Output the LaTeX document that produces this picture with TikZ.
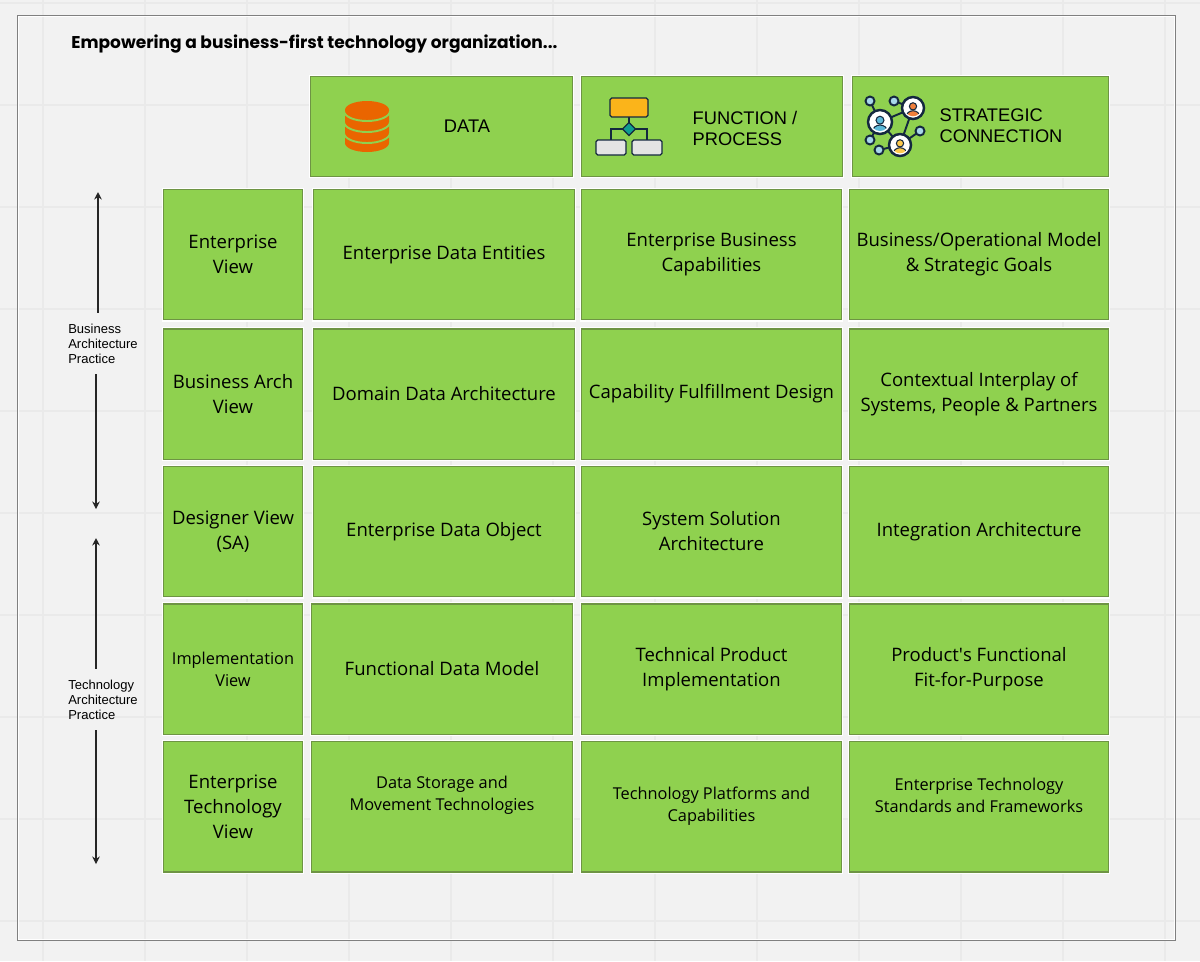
\documentclass[tikz,border=0pt]{standalone}
\usepackage{fontspec}
\setmainfont{Open Sans}
\newfontfamily\headfont{Liberation Sans}
\newfontfamily\titlefont{Poppins}
\usepackage{tikz}
\usetikzlibrary{arrows.meta}
\definecolor{pagebg}{HTML}{F2F2F2}
\definecolor{gridline}{HTML}{EAEAEA}
\definecolor{frameline}{HTML}{808080}
\definecolor{cellgreen}{HTML}{8FD14F}
\definecolor{cellline}{HTML}{6E9444}
\definecolor{inkblue}{HTML}{14283F}
\definecolor{dborange}{HTML}{EA6500}
\definecolor{flowyellow}{HTML}{FBB41A}
\definecolor{flowteal}{HTML}{0F9D8F}
\definecolor{flowgrey}{HTML}{E4E4E4}
\definecolor{dotblue}{HTML}{A8D8EA}
\definecolor{personblue}{HTML}{5CB8D8}
\definecolor{personorange}{HTML}{F0803C}
\definecolor{personyellow}{HTML}{FDC94E}
\tikzset{
  cell/.style={draw=cellline,fill=cellgreen,line width=0.85pt,preaction={draw=white,line width=2pt},inner sep=0pt,align=center,text=black,font=\fontsize{10.55}{14.2}\selectfont},
  smallcell/.style={cell,font=\fontsize{9.3}{12.5}\selectfont},
  smalltext/.style={inner sep=0pt,align=center,text=black,font=\fontsize{9.3}{12.5}\selectfont},
  viewcol/.style={minimum width=2.78cm,minimum height=2.61cm},
  datacol/.style={minimum width=5.22cm,minimum height=2.61cm},
  funccol/.style={minimum width=5.2cm,minimum height=2.61cm},
  conncol/.style={minimum width=5.18cm,minimum height=2.61cm},
  headcell/.style={cell,minimum height=2cm},
  headtext/.style={inner sep=0pt,align=left,text=black,font=\headfont\fontsize{10.4}{12}\selectfont},
  sidetext/.style={inner xsep=0pt,inner ysep=6pt,align=left,text=black,font=\headfont\fontsize{7.4}{8.5}\selectfont},
  sidearrow/.style={-{Stealth[length=1.5mm,width=1.5mm]},line width=0.65pt,draw=black!85},
  iconline/.style={draw=inkblue,line width=0.75pt}
}
\newcommand{\personicon}[4]{
  \draw[iconline,fill=white,line width=1.4pt] (#1,#2) circle (#3);
  \begin{scope}
    \clip (#1,#2) circle (#3*0.75);
    \fill[#4,draw=inkblue,line width=0.6pt] (#1,#2+#3*0.8) ellipse [x radius=#3*0.62,y radius=#3*0.55];
  \end{scope}
  \fill[#4,draw=inkblue,line width=0.6pt] (#1,#2-#3*0.15) circle (#3*0.33);
}
\begin{document}
\begin{tikzpicture}[x=0.02cm,y=-0.02cm]
        \fill[pagebg] (0,0) rectangle (1200,961);
        \useasboundingbox (0,0) rectangle (1200,961);
        \foreach \gx in {43,145,...,1165} \draw[gridline,line width=0.8pt] (\gx,0) -- (\gx,961);
        \foreach \gy in {3,105,...,921} \draw[gridline,line width=0.8pt] (0,\gy) -- (1200,\gy);
        \draw[white,line width=0.5pt] (18.5,16.5) rectangle (1174,939);
        \draw[frameline,line width=0.55pt] (17.5,15.5) rectangle (1175,940);
        \node [anchor=west,inner sep=0pt,font=\titlefont\bfseries\fontsize{9.7}{12}\selectfont] (title) at (71,44.5) {Empowering a business-first technology organization...};
        % top row
        \node [headcell,minimum width=5.24cm] (headdata) at (441.5,126.5) {};
        \node [headcell,minimum width=5.22cm] (headfunc) at (712,126.5) {};
        \node [headcell,minimum width=5.12cm] (headconn) at (980.5,126.5) {};
        \node [headtext] (datatext) at (467,126) {DATA};
        \node [headtext] (functext) at (745,128.5) {FUNCTION /\\PROCESS};
        \node [headtext] (conntext) at (1001,126) {STRATEGIC\\CONNECTION};
        % database icon
        \fill[dborange] (345,110) -- (345,143) arc[start angle=180,end angle=0,x radius=22,y radius=9] -- (389,110) arc[start angle=0,end angle=-180,x radius=22,y radius=9] -- cycle;
        \foreach \dby in {111,122,133} \draw[cellgreen,line width=1.1pt] (344,\dby) arc[start angle=180,end angle=0,x radius=23,y radius=10];
        % flow icon
        \draw[iconline] (629,117) -- (629,123) (611,140) -- (611,129) -- (647,129) -- (647,140);
        \draw[iconline,fill=flowyellow,rounded corners=1pt] (610,98) rectangle (648,117);
        \draw[iconline,fill=flowteal] (629,122.5) -- (635.5,129) -- (629,135.5) -- (622.5,129) -- cycle;
        \draw[iconline,fill=flowgrey,rounded corners=1pt] (596,140) rectangle (626,155);
        \draw[iconline,fill=flowgrey,rounded corners=1pt] (632,140) rectangle (662,155);
        % network icon
        \draw[iconline,line width=1.1pt] (870,101) -- (880,122) -- (913,108) -- (894,101) (880,122) -- (900,145) -- (913,108) (870,140) -- (880,122) (879,150) -- (900,145) -- (920,131);
        \foreach \sx/\sy in {870/101,894/101,870/140,879/150,920/131} \draw[iconline,fill=dotblue,line width=1.1pt] (\sx,\sy) circle (4.5);
        \personicon{880}{122}{12}{personblue}
        \personicon{913}{108}{11}{personorange}
        \personicon{900}{145}{11}{personyellow}
        % first column
        \node [cell,viewcol] (view1) at (233,254.5) {Enterprise\\View};
        \node [cell,viewcol] (view2) at (233,394) {Business Arch\\View};
        \node [cell,viewcol] (view3) at (233,531.5) {Designer View\\(SA)};
        \node [smallcell,viewcol] (view4) at (233,669) {Implementation\\View};
        \node [cell,viewcol] (view5) at (233,806.5) {Enterprise\\Technology\\View};
        % data column
        \node [cell,datacol] (data1) at (444,254.5) {Enterprise Data Entities};
        \node [cell,datacol] (data2) at (444,394) {Domain Data Architecture};
        \node [cell,datacol] (data3) at (444,531.5) {Enterprise Data Object};
        \node [cell,datacol] (data4) at (442,669) {Functional Data Model};
        \node [cell,datacol] (data5) at (442,806.5) {};
        \node [smalltext] (data5text) at (442,795.5) {Data Storage and\\Movement Technologies};
        % function column
        \node [cell,funccol] (func1) at (711.5,254.5) {Enterprise Business\\Capabilities};
        \node [cell,funccol] (func2) at (711.5,394) {Capability Fulfillment Design};
        \node [cell,funccol] (func3) at (711.5,531.5) {System Solution\\Architecture};
        \node [cell,funccol] (func4) at (711.5,669) {Technical Product\\Implementation};
        \node [smallcell,funccol] (func5) at (711.5,806.5) {Technology Platforms and\\Capabilities};
        % connection column
        \node [cell,conncol] (conn1) at (979,254.5) {Business/Operational Model\\\& Strategic Goals};
        \node [cell,conncol] (conn2) at (979,394) {Contextual Interplay of\\Systems, People \& Partners};
        \node [cell,conncol] (conn3) at (979,531.5) {Integration Architecture};
        \node [cell,conncol] (conn4) at (979,669) {Product\textquotesingle s Functional\\Fit-for-Purpose};
        \node [cell,conncol] (conn5) at (979,806.5) {};
        \node [smalltext] (conn5text) at (979,795.5) {Enterprise Technology\\Standards and Frameworks};
        % side labels
        \node [sidetext] (bizlabel) at (103,343.5) {Business\\Architecture\\Practice};
        \node [sidetext] (techlabel) at (103,699.5) {Technology\\Architecture\\Practice};
        \coordinate (bizup) at (98,192);
        \coordinate (bizdown) at (96,509);
        \coordinate (techup) at (96,538);
        \coordinate (techdown) at (96,864);
        \draw[sidearrow] (bizup |- bizlabel.north) -- (bizup);
        \draw[sidearrow] (bizdown |- bizlabel.south) -- (bizdown);
        \draw[sidearrow] (techup |- techlabel.north) -- (techup);
        \draw[sidearrow] (techdown |- techlabel.south) -- (techdown);
      \end{tikzpicture}
\end{document}
